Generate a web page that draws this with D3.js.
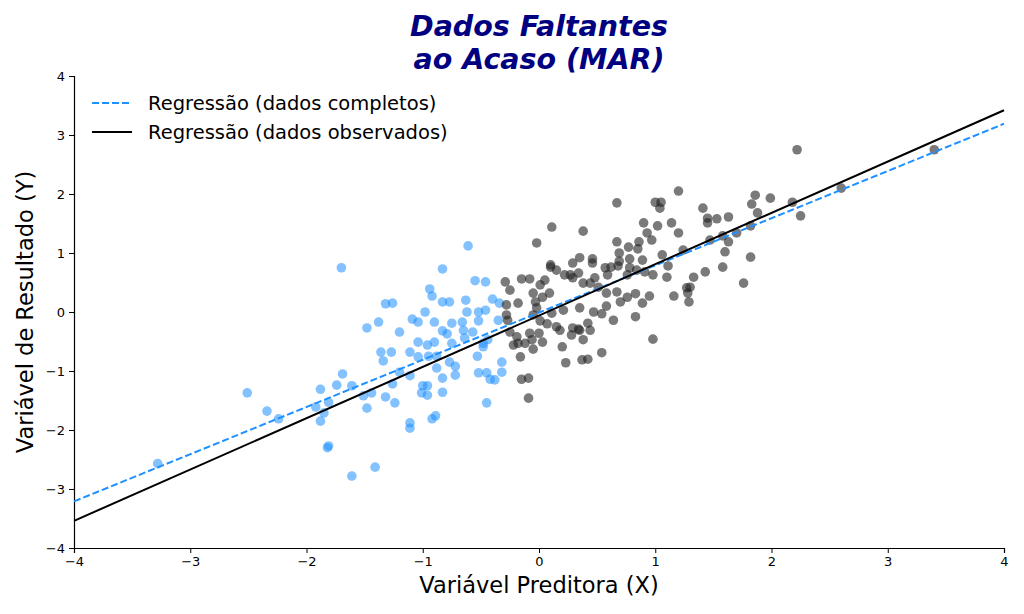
<!DOCTYPE html>
<html><head><meta charset="utf-8">
<script src="https://cdn.jsdelivr.net/npm/d3@7"></script>
<style>body{margin:0;background:#fff;font-family:"DejaVu Sans",sans-serif}</style>
</head><body><div id="chart"></div>
<script>
// pontos faltantes (exibidos em azul) e observados (preto)
const missingPts = [
[-3.28,-2.57],[-0.61,1.12],[-1.70,0.75],[-0.83,0.73],[-0.55,0.53],[-0.46,0.51],[-0.94,0.39],[-0.92,0.27],
[-1.32,0.14],[-1.26,0.15],[-0.83,0.17],[-0.77,0.17],[-0.63,0.2],[-0.4,0.22],[-0.34,0.15],[-0.98,0.0],
[-0.62,0.0],[-0.52,0],[-0.46,0.03],[-1.38,-0.17],[-1.09,-0.12],[-1.04,-0.17],[-0.9,-0.17],[-0.75,-0.19],
[-0.66,-0.17],[-0.52,-0.15],[-0.35,-0.14],[-1.48,-0.27],[-1.2,-0.34],[-0.83,-0.32],[-0.79,-0.37],[-0.65,-0.31],
[-0.57,-0.34],[-0.64,-0.44],[-1.04,-0.51],[-0.96,-0.56],[-0.9,-0.51],[-0.75,-0.53],[-0.48,-0.53],[-0.44,-0.47],
[-1.36,-0.68],[-1.27,-0.68],[-1.34,-0.83],[-1.11,-0.68],[-1.04,-0.76],[-0.95,-0.75],[-0.88,-0.75],[-0.53,-0.75],
[-0.48,-0.59],[-0.77,-0.85],[-0.72,-0.92],[-0.32,-0.85],[-1.2,-1.02],[-1.11,-1.08],[-0.88,-0.95],[-0.83,-1.12],
[-0.72,-1.07],[-0.52,-1.03],[-0.45,-1.03],[-0.42,-1.14],[-0.38,-1.15],[-0.32,-1.02],[-1.69,-1.05],[-1.74,-1.24],
[-1.61,-1.25],[-1.88,-1.31],[-1.26,-1.22],[-1.0,-1.25],[-0.96,-1.25],[-1.01,-1.37],[-0.96,-1.41],[-0.83,-1.36],
[-1.51,-1.42],[-1.44,-1.37],[-1.32,-1.44],[-2.51,-1.37],[-1.81,-1.53],[-1.24,-1.54],[-0.45,-1.54],[-1.92,-1.61],
[-1.48,-1.63],[-1.85,-1.71],[-2.34,-1.68],[-2.24,-1.81],[-1.88,-1.85],[-1.11,-1.88],[-1.11,-1.97],[-0.92,-1.81],
[-0.89,-1.76],[-1.82,-2.3],[-1.81,-2.27],[-1.61,-2.78],[-1.41,-2.63]
];
const observedPts = [
[2.22,2.75],[1.2,2.05],[0.67,1.85],[1.0,1.86],[1.05,1.86],[1.04,1.76],[1.86,1.98],[1.99,1.93],[1.83,1.83],
[2.18,1.86],[2.25,1.63],[1.88,1.68],[1.41,1.76],[1.45,1.59],[1.53,1.58],[1.63,1.61],[1.45,1.51],[0.11,1.44],
[0.38,1.37],[0.9,1.51],[1.02,1.46],[1.14,1.51],[1.2,1.34],[0.93,1.34],[0.97,1.22],[-0.02,1.17],[0.67,1.19],
[0.77,1.1],[0.86,1.19],[0.85,1.07],[0.69,1.0],[1.24,1.05],[1.47,1.22],[1.58,1.29],[1.63,1.19],[1.7,1.34],
[1.82,1.46],[1.6,1.02],[1.82,0.93],[1.58,0.76],[1.76,0.49],[1.06,0.97],[0.89,0.88],[0.78,0.9],[0.69,0.86],
[0.46,0.9],[0.35,0.92],[0.46,0.83],[0.29,0.83],[0.1,0.8],[0.1,0.76],[0.15,0.71],[0.57,0.75],[0.62,0.76],
[0.68,0.78],[0.78,0.75],[0.84,0.71],[0.91,0.68],[0.98,0.63],[1.11,0.78],[1.1,0.59],[1.43,0.68],[1.33,0.59],
[1.3,0.42],[1.27,0.41],[1.28,0.32],[1.29,0.17],[1.16,0.27],[0.95,0.27],[0.89,0.15],[0.83,0.31],[0.83,-0.08],
[0.98,-0.46],[0.76,0.25],[0.7,0.17],[0.67,0.34],[0.58,0.32],[0.59,0.63],[0.76,0.63],[0.48,0.58],[0.38,0.49],
[0.34,0.66],[0.27,0.63],[0.22,0.63],[0.29,0.58],[0.44,0.49],[0.51,0.42],[0.58,0.1],[0.64,-0.14],[0.54,-0.03],
[0.47,0.0],[0.35,0.07],[0.21,0.03],[0.11,-0.02],[0.03,0.25],[0.09,0.32],[0.01,0.46],[0.05,0.54],[-0.08,0.56],
[-0.15,0.56],[-0.29,0.51],[-0.25,0.37],[-0.18,0.15],[-0.05,0.32],[-0.03,0.17],[-0.02,0.07],[-0.28,0.12],
[-0.28,-0.05],[-0.27,-0.14],[-0.05,-0.05],[0.01,-0.15],[0.07,-0.2],[0.15,-0.25],[0.18,-0.31],[0.29,-0.27],
[0.35,-0.31],[0.42,-0.19],[0.44,-0.31],[0.38,-0.47],[0.28,-0.39],[0.34,-0.29],[0.2,-0.59],[0.03,-0.51],
[0.0,-0.36],[-0.08,-0.36],[-0.06,-0.47],[-0.05,-0.63],[-0.12,-0.53],[-0.18,-0.53],[-0.19,-0.42],[-0.22,-0.56],
[-0.25,-0.34],[-0.16,-0.76],[0.23,-0.86],[0.37,-0.81],[0.42,-0.8],[0.54,-0.69],[-0.15,-1.14],[-0.09,-1.12],
[-0.09,-1.46],[2.6,2.1],[3.4,2.75]
];
// retas de regressão [intercepto, inclinação]
const fitComplete = [-0.01, 0.8];
const fitObserved = [-0.06, 0.87];
const ticks = [-4,-3,-2,-1,0,1,2,3,4];

const W = 1024, H = 614;
const margin = {top: 76, right: 20, bottom: 66, left: 74};
const width = W - margin.left - margin.right;
const height = H - margin.top - margin.bottom;

const svg = d3.select("#chart").append("svg")
    .attr("width", W).attr("height", H)
    .style("font-family", "'DejaVu Sans', sans-serif");
const g = svg.append("g").attr("transform", `translate(${margin.left},${margin.top})`);

const x = d3.scaleLinear().domain([-4, 4]).range([0, width]);
const y = d3.scaleLinear().domain([-4, 4]).range([height, 0]);

const fmt = d => d < 0 ? "\u2212" + (-d) : d;
const xAxis = g.append("g").attr("transform", `translate(0,${height})`)
    .call(d3.axisBottom(x).tickValues(ticks).tickSize(5).tickPadding(4).tickFormat(fmt));
const yAxis = g.append("g")
    .call(d3.axisLeft(y).tickValues(ticks).tickSize(5).tickPadding(4).tickFormat(fmt));
[xAxis, yAxis].forEach(a => {
    a.selectAll("text").attr("font-size", 13).attr("font-family", "'DejaVu Sans', sans-serif").attr("fill", "#000");
    a.select(".domain").attr("stroke", "#000").attr("stroke-width", 1.2);
});

g.selectAll("circle.miss").data(missingPts).enter().append("circle")
    .attr("cx", d => x(d[0])).attr("cy", d => y(d[1])).attr("r", 4.8)
    .attr("fill", "#1E90FF").attr("fill-opacity", 0.55);
g.selectAll("circle.obs").data(observedPts).enter().append("circle")
    .attr("cx", d => x(d[0])).attr("cy", d => y(d[1])).attr("r", 4.8)
    .attr("fill", "#222").attr("fill-opacity", 0.6);

const line = f => d3.line().x(d => x(d)).y(d => y(f[0] + f[1] * d))([-4, 4]);
g.append("path").attr("d", line(fitComplete)).attr("fill", "none")
    .attr("stroke", "#1E90FF").attr("stroke-width", 2).attr("stroke-dasharray", "7,3");
g.append("path").attr("d", line(fitObserved)).attr("fill", "none")
    .attr("stroke", "#000").attr("stroke-width", 2);

// legenda
const legend = [
    {label: "Regressão (dados completos)", color: "#1E90FF", dash: "7,3"},
    {label: "Regressão (dados observados)", color: "#000", dash: null}
];
const lg = g.selectAll(".legend").data(legend).enter().append("g")
    .attr("transform", (d, i) => `translate(18,${27 + i * 29})`);
lg.append("line").attr("x1", 0).attr("x2", 40)
    .attr("stroke", d => d.color).attr("stroke-width", 2).attr("stroke-dasharray", d => d.dash);
lg.append("text").attr("x", 56).attr("y", 7).attr("font-size", 19.5).text(d => d.label);

// títulos
svg.append("text").attr("x", margin.left + width / 2).attr("y", 36).attr("text-anchor", "middle")
    .attr("font-size", 28.5).attr("font-weight", "bold").attr("font-style", "italic").attr("fill", "#000080")
    .text("Dados Faltantes");
svg.append("text").attr("x", margin.left + width / 2).attr("y", 69).attr("text-anchor", "middle")
    .attr("font-size", 28.5).attr("font-weight", "bold").attr("font-style", "italic").attr("fill", "#000080")
    .text("ao Acaso (MAR)");
svg.append("text").attr("x", margin.left + width / 2).attr("y", 593).attr("text-anchor", "middle")
    .attr("font-size", 22.5).text("Variável Preditora (X)");
svg.append("text").attr("transform", `translate(33,${margin.top + height / 2}) rotate(-90)`)
    .attr("text-anchor", "middle").attr("font-size", 22.5).text("Variável de Resultado (Y)");
</script></body></html>
